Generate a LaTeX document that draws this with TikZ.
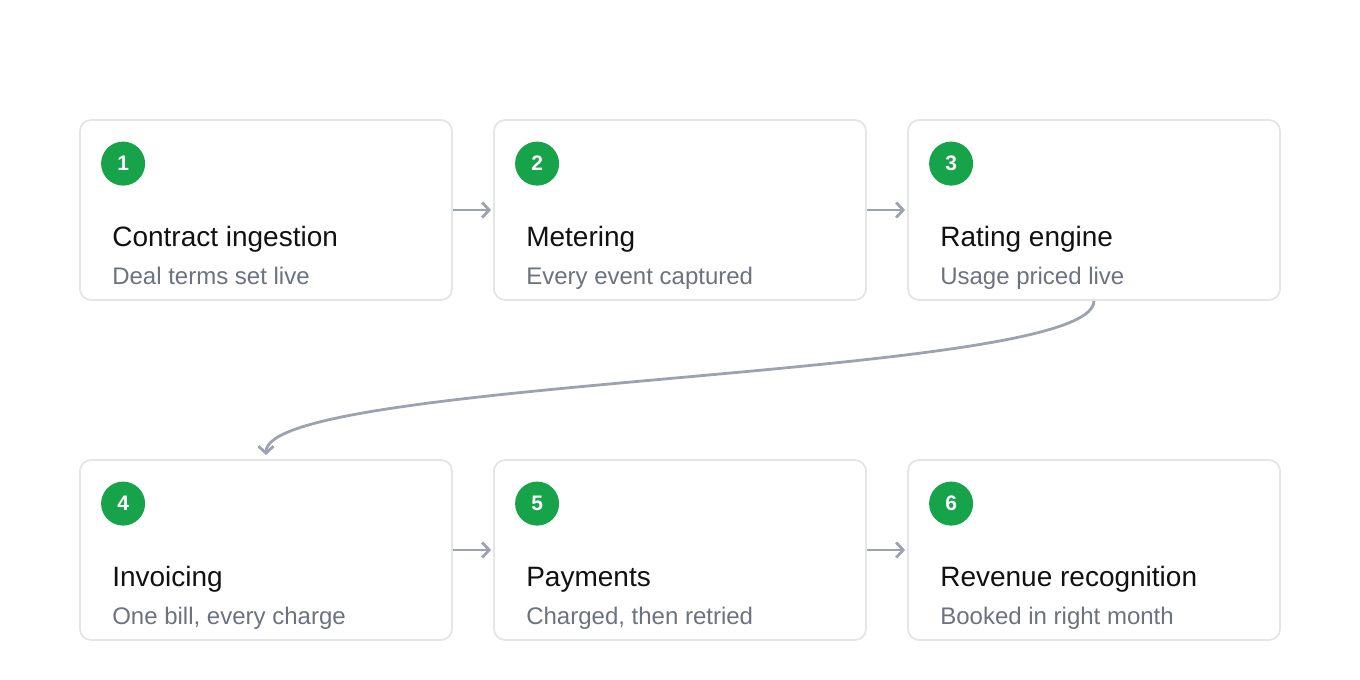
\documentclass[tikz,border=0pt]{standalone}
\usepackage{fontspec}
\setmainfont{Liberation Sans}
\usetikzlibrary{arrows.meta,positioning,calc}
\definecolor{cardborder}{HTML}{E3E5E8}
\definecolor{badge}{HTML}{16A34A}
\definecolor{titlecol}{HTML}{111111}
\definecolor{subcol}{HTML}{6B7280}
\definecolor{arrowcol}{HTML}{9CA3AF}
\tikzset{
  card/.style={draw=cardborder, line width=1.8pt, fill=white, rounded corners=11pt,
    minimum width=372pt, minimum height=180pt, inner sep=0pt},
  badgenode/.style={circle, fill=badge, minimum size=44pt, inner sep=0pt,
    text=white, font=\fontsize{21}{21}\selectfont\bfseries},
  cardtitle/.style={anchor=base west, inner sep=0pt, text=titlecol,
    font=\fontsize{28}{30}\selectfont},
  cardsub/.style={anchor=base west, inner sep=0pt, text=subcol,
    font=\fontsize{24}{26}\selectfont},
  flow/.style={draw=arrowcol, line width=2.8pt,
    -{Straight Barb[length=7pt,width=15pt,line width=2.8pt]}}
}
\begin{document}
\begin{tikzpicture}[x=1pt,y=1pt]
\useasboundingbox (0,0) rectangle (1360,-680);
% cards
\node[card] (b1) at (266,-210) {};
\node[card] (b2) at (680,-210) {};
\node[card] (b3) at (1094,-210) {};
\node[card] (b4) at (266,-550) {};
\node[card] (b5) at (680,-550) {};
\node[card] (b6) at (1094,-550) {};
% contents
\foreach \b/\n/\t/\s in {b1/1/Contract ingestion/Deal terms set live,
                         b2/2/Metering/Every event captured,
                         b3/3/Rating engine/Usage priced live,
                         b4/4/Invoicing/{One bill, every charge},
                         b5/5/Payments/{Charged, then retried},
                         b6/6/Revenue recognition/Booked in right month}{
  \node[badgenode] (\b n) at ($(\b.north west)+(44,-44.5)$) {\n};
  \node[cardtitle] (\b t) at ($(\b.north west)+(33,-127)$) {\t};
  \node[cardsub] (\b s) at ($(\b.north west)+(33,-165)$) {\s};
}
% connectors
\draw[flow, shorten >=2pt] (b1.east) -- (b2.west);
\draw[flow, shorten >=2pt] (b2.east) -- (b3.west);
\draw[flow, shorten >=2pt] (b4.east) -- (b5.west);
\draw[flow, shorten >=2pt] (b5.east) -- (b6.west);
\coordinate (c4) at ($(b4.north)+(0,4)$);
\draw[flow] (b3.south) .. controls +(0,-78) and +(0,78) .. (c4);
\end{tikzpicture}
\end{document}
